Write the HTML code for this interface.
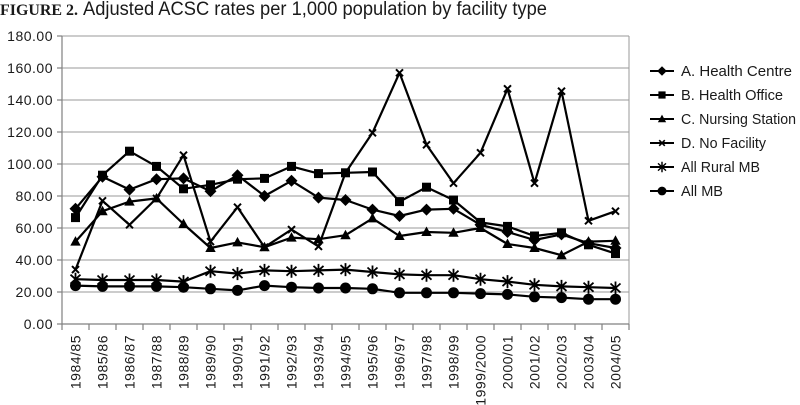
<!DOCTYPE html>
<html><head><meta charset="utf-8"><style>
html,body{margin:0;padding:0;background:#fff;}
svg{display:block;}
text{font-family:"Liberation Sans",sans-serif;fill:#1a1a1a;}
</style></head><body>
<svg width="800" height="405" viewBox="0 0 800 405" xmlns="http://www.w3.org/2000/svg">
<defs>
<polygon id="dm" points="0,-6 6,0 0,6 -6,0" fill="#000"/>
<rect id="sq" x="-4.5" y="-4.5" width="9" height="9" fill="#000"/>
<polygon id="tr" points="0,-5.5 5.2,4 -5.2,4" fill="#000"/>
<path id="xm" d="M-3.5,-3.5L3.5,3.5M-3.5,3.5L3.5,-3.5" stroke="#000" stroke-width="2" fill="none"/>
<path id="st" d="M-5,-4.5L5,4.5M-5,4.5L5,-4.5M0,-6.5L0,6.5" stroke="#000" stroke-width="1.8" fill="none"/>
<circle id="ci" r="5.5" fill="#000"/>
</defs>

<!-- title -->
<text x="0" y="15" style="font-family:'Liberation Serif',serif;font-weight:bold;font-size:16px;" textLength="78" lengthAdjust="spacingAndGlyphs">FIGURE 2.</text>
<text x="83" y="15" style="font-size:19px;" textLength="464" lengthAdjust="spacingAndGlyphs">Adjusted ACSC rates per 1,000 population by facility type</text>

<!-- gridlines -->
<g stroke="#9a9a9a" stroke-width="1">
<line x1="62" y1="292" x2="629" y2="292"/>
<line x1="62" y1="260" x2="629" y2="260"/>
<line x1="62" y1="228" x2="629" y2="228"/>
<line x1="62" y1="196" x2="629" y2="196"/>
<line x1="62" y1="164" x2="629" y2="164"/>
<line x1="62" y1="132" x2="629" y2="132"/>
<line x1="62" y1="100" x2="629" y2="100"/>
<line x1="62" y1="68" x2="629" y2="68"/>
<line x1="62" y1="36" x2="629" y2="36"/>
<line x1="629" y1="36" x2="629" y2="324"/>
</g>
<!-- axes -->
<g stroke="#808080" stroke-width="1.2">
<line x1="62" y1="36" x2="62" y2="324"/>
<line x1="62" y1="324" x2="629" y2="324"/>
<line x1="57" y1="324" x2="62" y2="324"/>
<line x1="57" y1="292" x2="62" y2="292"/>
<line x1="57" y1="260" x2="62" y2="260"/>
<line x1="57" y1="228" x2="62" y2="228"/>
<line x1="57" y1="196" x2="62" y2="196"/>
<line x1="57" y1="164" x2="62" y2="164"/>
<line x1="57" y1="132" x2="62" y2="132"/>
<line x1="57" y1="100" x2="62" y2="100"/>
<line x1="57" y1="68" x2="62" y2="68"/>
<line x1="57" y1="36" x2="62" y2="36"/>
<line x1="62" y1="324" x2="62" y2="330"/>
<line x1="89" y1="324" x2="89" y2="330"/>
<line x1="116" y1="324" x2="116" y2="330"/>
<line x1="143" y1="324" x2="143" y2="330"/>
<line x1="170" y1="324" x2="170" y2="330"/>
<line x1="197" y1="324" x2="197" y2="330"/>
<line x1="224" y1="324" x2="224" y2="330"/>
<line x1="251" y1="324" x2="251" y2="330"/>
<line x1="278" y1="324" x2="278" y2="330"/>
<line x1="305" y1="324" x2="305" y2="330"/>
<line x1="332" y1="324" x2="332" y2="330"/>
<line x1="359" y1="324" x2="359" y2="330"/>
<line x1="386" y1="324" x2="386" y2="330"/>
<line x1="413" y1="324" x2="413" y2="330"/>
<line x1="440" y1="324" x2="440" y2="330"/>
<line x1="467" y1="324" x2="467" y2="330"/>
<line x1="494" y1="324" x2="494" y2="330"/>
<line x1="521" y1="324" x2="521" y2="330"/>
<line x1="548" y1="324" x2="548" y2="330"/>
<line x1="575" y1="324" x2="575" y2="330"/>
<line x1="602" y1="324" x2="602" y2="330"/>
<line x1="629" y1="324" x2="629" y2="330"/>
</g>

<!-- y labels -->
<g style="font-size:14px;letter-spacing:0.5px;" text-anchor="end">
<text x="53" y="329">0.00</text>
<text x="53" y="297">20.00</text>
<text x="53" y="265">40.00</text>
<text x="53" y="233">60.00</text>
<text x="53" y="201">80.00</text>
<text x="53" y="169">100.00</text>
<text x="53" y="137">120.00</text>
<text x="53" y="105">140.00</text>
<text x="53" y="73">160.00</text>
<text x="53" y="41">180.00</text>
</g>

<!-- x labels -->
<g style="font-size:14px;letter-spacing:0.5px;" text-anchor="end">
<text transform="translate(80.5,335) rotate(-90)">1984/85</text>
<text transform="translate(107.5,335) rotate(-90)">1985/86</text>
<text transform="translate(134.5,335) rotate(-90)">1986/87</text>
<text transform="translate(161.5,335) rotate(-90)">1987/88</text>
<text transform="translate(188.5,335) rotate(-90)">1988/89</text>
<text transform="translate(215.5,335) rotate(-90)">1989/90</text>
<text transform="translate(242.5,335) rotate(-90)">1990/91</text>
<text transform="translate(269.5,335) rotate(-90)">1991/92</text>
<text transform="translate(296.5,335) rotate(-90)">1992/93</text>
<text transform="translate(323.5,335) rotate(-90)">1993/94</text>
<text transform="translate(350.5,335) rotate(-90)">1994/95</text>
<text transform="translate(377.5,335) rotate(-90)">1995/96</text>
<text transform="translate(404.5,335) rotate(-90)">1996/97</text>
<text transform="translate(431.5,335) rotate(-90)">1997/98</text>
<text transform="translate(458.5,335) rotate(-90)">1998/99</text>
<text transform="translate(485.5,335) rotate(-90)">1999/2000</text>
<text transform="translate(512.5,335) rotate(-90)">2000/01</text>
<text transform="translate(539.5,335) rotate(-90)">2001/02</text>
<text transform="translate(566.5,335) rotate(-90)">2002/03</text>
<text transform="translate(593.5,335) rotate(-90)">2003/04</text>
<text transform="translate(620.5,335) rotate(-90)">2004/05</text>
</g>

<!-- series lines -->
<g fill="none" stroke="#000" stroke-width="2.2" stroke-linejoin="round">
<polyline points="75.5,208.8 102.5,176.8 129.5,189.6 156.5,179.2 183.5,178.4 210.5,191.2 237.5,175.2 264.5,196 291.5,180.8 318.5,197.6 345.5,200 372.5,209.6 399.5,216 426.5,209.6 453.5,208.8 480.5,224.8 507.5,232 534.5,240 561.5,234.4 588.5,243.2 615.5,248"/>
<polyline points="75.5,217.6 102.5,175.2 129.5,151.2 156.5,166.4 183.5,188.8 210.5,184.8 237.5,179.2 264.5,178.4 291.5,166.4 318.5,173.6 345.5,172.8 372.5,172 399.5,201.6 426.5,187.2 453.5,200 480.5,222.4 507.5,226.4 534.5,236 561.5,232.8 588.5,244.8 615.5,253.6"/>
<polyline points="75.5,241.6 102.5,211.2 129.5,201.6 156.5,198.4 183.5,224 210.5,248 237.5,242.4 264.5,247.2 291.5,237.6 318.5,239.2 345.5,235.2 372.5,218.4 399.5,236 426.5,232 453.5,232.8 480.5,228 507.5,244 534.5,248 561.5,255.2 588.5,241.6 615.5,240.8"/>
<polyline points="75.5,269.6 102.5,200.8 129.5,224.8 156.5,198.4 183.5,155.2 210.5,241.6 237.5,207.2 264.5,247.2 291.5,229.6 318.5,246.4 345.5,172.8 372.5,132.8 399.5,72.8 426.5,144.8 453.5,183.2 480.5,152.8 507.5,88.8 534.5,183.2 561.5,91.2 588.5,220.8 615.5,211.2"/>
<polyline points="75.5,279.2 102.5,280 129.5,280 156.5,280 183.5,281.6 210.5,271.2 237.5,273.6 264.5,270.4 291.5,271.2 318.5,270.4 345.5,269.6 372.5,272 399.5,274.4 426.5,275.2 453.5,275.2 480.5,279.2 507.5,281.6 534.5,284.8 561.5,286.4 588.5,287.2 615.5,288"/>
<polyline points="75.5,285.6 102.5,286.4 129.5,286.4 156.5,286.4 183.5,287.2 210.5,288.8 237.5,290.4 264.5,285.6 291.5,287.2 318.5,288 345.5,288 372.5,288.8 399.5,292.8 426.5,292.8 453.5,292.8 480.5,293.6 507.5,294.4 534.5,296.8 561.5,297.6 588.5,299.2 615.5,299.2"/>
</g>

<!-- markers A -->
<g>
<use href="#dm" x="75.5" y="208.8"/><use href="#dm" x="102.5" y="176.8"/><use href="#dm" x="129.5" y="189.6"/><use href="#dm" x="156.5" y="179.2"/><use href="#dm" x="183.5" y="178.4"/><use href="#dm" x="210.5" y="191.2"/><use href="#dm" x="237.5" y="175.2"/><use href="#dm" x="264.5" y="196"/><use href="#dm" x="291.5" y="180.8"/><use href="#dm" x="318.5" y="197.6"/><use href="#dm" x="345.5" y="200"/><use href="#dm" x="372.5" y="209.6"/><use href="#dm" x="399.5" y="216"/><use href="#dm" x="426.5" y="209.6"/><use href="#dm" x="453.5" y="208.8"/><use href="#dm" x="480.5" y="224.8"/><use href="#dm" x="507.5" y="232"/><use href="#dm" x="534.5" y="240"/><use href="#dm" x="561.5" y="234.4"/><use href="#dm" x="588.5" y="243.2"/><use href="#dm" x="615.5" y="248"/>
</g>
<!-- markers B -->
<g>
<use href="#sq" x="75.5" y="217.6"/><use href="#sq" x="102.5" y="175.2"/><use href="#sq" x="129.5" y="151.2"/><use href="#sq" x="156.5" y="166.4"/><use href="#sq" x="183.5" y="188.8"/><use href="#sq" x="210.5" y="184.8"/><use href="#sq" x="237.5" y="179.2"/><use href="#sq" x="264.5" y="178.4"/><use href="#sq" x="291.5" y="166.4"/><use href="#sq" x="318.5" y="173.6"/><use href="#sq" x="345.5" y="172.8"/><use href="#sq" x="372.5" y="172"/><use href="#sq" x="399.5" y="201.6"/><use href="#sq" x="426.5" y="187.2"/><use href="#sq" x="453.5" y="200"/><use href="#sq" x="480.5" y="222.4"/><use href="#sq" x="507.5" y="226.4"/><use href="#sq" x="534.5" y="236"/><use href="#sq" x="561.5" y="232.8"/><use href="#sq" x="588.5" y="244.8"/><use href="#sq" x="615.5" y="253.6"/>
</g>
<!-- markers C -->
<g>
<use href="#tr" x="75.5" y="241.6"/><use href="#tr" x="102.5" y="211.2"/><use href="#tr" x="129.5" y="201.6"/><use href="#tr" x="156.5" y="198.4"/><use href="#tr" x="183.5" y="224"/><use href="#tr" x="210.5" y="248"/><use href="#tr" x="237.5" y="242.4"/><use href="#tr" x="264.5" y="247.2"/><use href="#tr" x="291.5" y="237.6"/><use href="#tr" x="318.5" y="239.2"/><use href="#tr" x="345.5" y="235.2"/><use href="#tr" x="372.5" y="218.4"/><use href="#tr" x="399.5" y="236"/><use href="#tr" x="426.5" y="232"/><use href="#tr" x="453.5" y="232.8"/><use href="#tr" x="480.5" y="228"/><use href="#tr" x="507.5" y="244"/><use href="#tr" x="534.5" y="248"/><use href="#tr" x="561.5" y="255.2"/><use href="#tr" x="588.5" y="241.6"/><use href="#tr" x="615.5" y="240.8"/>
</g>
<!-- markers D -->
<g>
<use href="#xm" x="75.5" y="269.6"/><use href="#xm" x="102.5" y="200.8"/><use href="#xm" x="129.5" y="224.8"/><use href="#xm" x="156.5" y="198.4"/><use href="#xm" x="183.5" y="155.2"/><use href="#xm" x="210.5" y="241.6"/><use href="#xm" x="237.5" y="207.2"/><use href="#xm" x="264.5" y="247.2"/><use href="#xm" x="291.5" y="229.6"/><use href="#xm" x="318.5" y="246.4"/><use href="#xm" x="345.5" y="172.8"/><use href="#xm" x="372.5" y="132.8"/><use href="#xm" x="399.5" y="72.8"/><use href="#xm" x="426.5" y="144.8"/><use href="#xm" x="453.5" y="183.2"/><use href="#xm" x="480.5" y="152.8"/><use href="#xm" x="507.5" y="88.8"/><use href="#xm" x="534.5" y="183.2"/><use href="#xm" x="561.5" y="91.2"/><use href="#xm" x="588.5" y="220.8"/><use href="#xm" x="615.5" y="211.2"/>
</g>
<!-- markers Rural -->
<g>
<use href="#st" x="75.5" y="279.2"/><use href="#st" x="102.5" y="280"/><use href="#st" x="129.5" y="280"/><use href="#st" x="156.5" y="280"/><use href="#st" x="183.5" y="281.6"/><use href="#st" x="210.5" y="271.2"/><use href="#st" x="237.5" y="273.6"/><use href="#st" x="264.5" y="270.4"/><use href="#st" x="291.5" y="271.2"/><use href="#st" x="318.5" y="270.4"/><use href="#st" x="345.5" y="269.6"/><use href="#st" x="372.5" y="272"/><use href="#st" x="399.5" y="274.4"/><use href="#st" x="426.5" y="275.2"/><use href="#st" x="453.5" y="275.2"/><use href="#st" x="480.5" y="279.2"/><use href="#st" x="507.5" y="281.6"/><use href="#st" x="534.5" y="284.8"/><use href="#st" x="561.5" y="286.4"/><use href="#st" x="588.5" y="287.2"/><use href="#st" x="615.5" y="288"/>
</g>
<!-- markers MB -->
<g>
<use href="#ci" x="75.5" y="285.6"/><use href="#ci" x="102.5" y="286.4"/><use href="#ci" x="129.5" y="286.4"/><use href="#ci" x="156.5" y="286.4"/><use href="#ci" x="183.5" y="287.2"/><use href="#ci" x="210.5" y="288.8"/><use href="#ci" x="237.5" y="290.4"/><use href="#ci" x="264.5" y="285.6"/><use href="#ci" x="291.5" y="287.2"/><use href="#ci" x="318.5" y="288"/><use href="#ci" x="345.5" y="288"/><use href="#ci" x="372.5" y="288.8"/><use href="#ci" x="399.5" y="292.8"/><use href="#ci" x="426.5" y="292.8"/><use href="#ci" x="453.5" y="292.8"/><use href="#ci" x="480.5" y="293.6"/><use href="#ci" x="507.5" y="294.4"/><use href="#ci" x="534.5" y="296.8"/><use href="#ci" x="561.5" y="297.6"/><use href="#ci" x="588.5" y="299.2"/><use href="#ci" x="615.5" y="299.2"/>
</g>

<!-- legend -->
<g stroke="#000" stroke-width="2">
<line x1="650" y1="71" x2="674" y2="71"/>
<line x1="650" y1="95" x2="674" y2="95"/>
<line x1="650" y1="119" x2="674" y2="119"/>
<line x1="650" y1="143" x2="674" y2="143"/>
<line x1="650" y1="167" x2="674" y2="167"/>
<line x1="650" y1="191" x2="674" y2="191"/>
</g>
<g transform="translate(662,71) scale(0.8)"><use href="#dm"/></g>
<g transform="translate(662,95) scale(0.8)"><use href="#sq"/></g>
<g transform="translate(662,119) scale(0.8)"><use href="#tr"/></g>
<g transform="translate(662,143) scale(0.8)"><use href="#xm"/></g>
<g transform="translate(662,167) scale(0.8)"><use href="#st"/></g>
<g transform="translate(662,191) scale(0.8)"><use href="#ci"/></g>
<g style="font-size:14.5px;">
<text x="681" y="76" textLength="111" lengthAdjust="spacingAndGlyphs">A. Health Centre</text>
<text x="681" y="100" textLength="102" lengthAdjust="spacingAndGlyphs">B. Health Office</text>
<text x="681" y="124" textLength="115" lengthAdjust="spacingAndGlyphs">C. Nursing Station</text>
<text x="681" y="148" textLength="85" lengthAdjust="spacingAndGlyphs">D. No Facility</text>
<text x="681" y="172" textLength="79" lengthAdjust="spacingAndGlyphs">All Rural MB</text>
<text x="681" y="196" textLength="42" lengthAdjust="spacingAndGlyphs">All MB</text>
</g>
</svg>
</body></html>
